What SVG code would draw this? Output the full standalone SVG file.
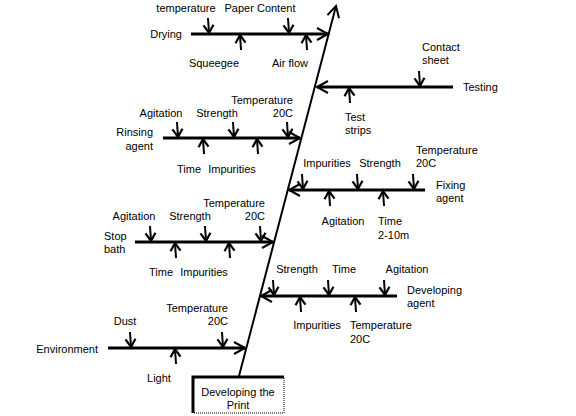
<svg xmlns="http://www.w3.org/2000/svg" width="576" height="416" viewBox="0 0 576 416">
<defs>
<marker id="sh" markerUnits="userSpaceOnUse" markerWidth="20" markerHeight="20" refX="0" refY="0" viewBox="-10 -10 20 20" orient="auto" overflow="visible">
<path d="M-8,-5 L0,0 L-8,5" fill="none" stroke="#000" stroke-width="2.2"/>
</marker>
<marker id="bh" markerUnits="userSpaceOnUse" markerWidth="20" markerHeight="20" refX="0" refY="0" viewBox="-10 -10 20 20" orient="auto" overflow="visible">
<path d="M-11,-6 L0,0 L-11,6" fill="none" stroke="#000" stroke-width="2"/>
</marker>
</defs>
<style>
text{font-family:"Liberation Sans",Arial,sans-serif;font-size:11px;fill:#000}
.br{stroke:#000;stroke-width:3;fill:none;marker-end:url(#bh)}
.sp{stroke:#000;stroke-width:2;fill:none;marker-end:url(#bh)}
.sa{stroke:#000;stroke-width:2;fill:none;marker-end:url(#sh)}
.e{text-anchor:end}
.m{text-anchor:middle}
</style>
<rect width="576" height="416" fill="#fff"/>
<g id="connectors">
<line class="sp" x1="239" y1="376" x2="336" y2="6"/>
<line class="br" x1="191" y1="34" x2="328" y2="34"/>
<line class="br" x1="453" y1="87" x2="317" y2="87"/>
<line class="br" x1="163" y1="138" x2="300" y2="138"/>
<line class="br" x1="425" y1="190" x2="289" y2="190"/>
<line class="br" x1="135" y1="242" x2="273" y2="242"/>
<line class="br" x1="397" y1="296" x2="261" y2="296"/>
<line class="br" x1="108" y1="348" x2="245" y2="348"/>
<!-- drying -->
<line class="sa" x1="208" y1="18" x2="209" y2="33"/>
<line class="sa" x1="288" y1="18" x2="289" y2="33"/>
<line class="sa" x1="241" y1="50" x2="240" y2="35"/>
<line class="sa" x1="307" y1="50" x2="306" y2="35"/>
<!-- testing -->
<line class="sa" x1="419" y1="71" x2="420" y2="86"/>
<line class="sa" x1="350" y1="103" x2="349" y2="88"/>
<!-- rinsing -->
<line class="sa" x1="177" y1="122" x2="178" y2="137"/>
<line class="sa" x1="233" y1="122" x2="234" y2="137"/>
<line class="sa" x1="287" y1="122" x2="288" y2="137"/>
<line class="sa" x1="204" y1="154" x2="203" y2="139"/>
<line class="sa" x1="258" y1="154" x2="257" y2="139"/>
<!-- fixing -->
<line class="sa" x1="302" y1="174" x2="303" y2="189"/>
<line class="sa" x1="357" y1="174" x2="358" y2="189"/>
<line class="sa" x1="413" y1="174" x2="414" y2="189"/>
<line class="sa" x1="330" y1="206" x2="329" y2="191"/>
<line class="sa" x1="384" y1="206" x2="383" y2="191"/>
<!-- stop bath -->
<line class="sa" x1="150" y1="226" x2="151" y2="241"/>
<line class="sa" x1="205" y1="226" x2="206" y2="241"/>
<line class="sa" x1="260" y1="226" x2="261" y2="241"/>
<line class="sa" x1="176" y1="258" x2="175" y2="243"/>
<line class="sa" x1="230" y1="258" x2="229" y2="243"/>
<!-- developing -->
<line class="sa" x1="273" y1="280" x2="274" y2="295"/>
<line class="sa" x1="328" y1="280" x2="329" y2="295"/>
<line class="sa" x1="384" y1="280" x2="385" y2="295"/>
<line class="sa" x1="301" y1="312" x2="300" y2="297"/>
<line class="sa" x1="356" y1="312" x2="355" y2="297"/>
<!-- environment -->
<line class="sa" x1="130" y1="332" x2="131" y2="347"/>
<line class="sa" x1="222" y1="332" x2="223" y2="347"/>
<line class="sa" x1="176" y1="364" x2="175" y2="349"/>
</g>
<g id="head">
<rect x="193" y="377" width="91" height="36" fill="#fff" stroke="#000" stroke-width="1" stroke-dasharray="1,1"/>
<path d="M193,413 L193,377 L284,377" fill="none" stroke="#000" stroke-width="3"/>
<text class="m" x="238" y="396">Developing the</text>
<text class="m" x="238" y="409">Print</text>
</g>
<g id="drying">
<text class="e" x="182" y="38">Drying</text>
<text class="m" x="186" y="12">temperature</text>
<text class="m" x="260" y="12">Paper Content</text>
<text class="m" x="214" y="67">Squeegee</text>
<text class="m" x="290" y="67">Air flow</text>
</g>
<g id="testing">
<text x="463" y="91">Testing</text>
<text x="422" y="51">Contact</text>
<text x="422" y="64">sheet</text>
<text x="345" y="121">Test</text>
<text x="345" y="134">strips</text>
</g>
<g id="rinsing">
<text class="e" x="153" y="136">Rinsing</text>
<text class="e" x="153" y="150">agent</text>
<text class="m" x="161" y="117">Agitation</text>
<text class="m" x="217" y="117">Strength</text>
<text class="e" x="293" y="104">Temperature</text>
<text class="e" x="293" y="117">20C</text>
<text class="m" x="189" y="173">Time</text>
<text class="m" x="232" y="173">Impurities</text>
</g>
<g id="fixing">
<text x="436" y="189">Fixing</text>
<text x="436" y="202">agent</text>
<text class="m" x="327" y="167">Impurities</text>
<text class="m" x="380" y="167">Strength</text>
<text x="416" y="154">Temperature</text>
<text x="416" y="167">20C</text>
<text class="m" x="343" y="225">Agitation</text>
<text x="378" y="225">Time</text>
<text x="378" y="239">2-10m</text>
</g>
<g id="stopbath">
<text x="104" y="240">Stop</text>
<text x="104" y="253">bath</text>
<text class="m" x="134" y="220">Agitation</text>
<text class="m" x="190" y="220">Strength</text>
<text class="e" x="265" y="207">Temperature</text>
<text class="e" x="265" y="220">20C</text>
<text class="m" x="161" y="276">Time</text>
<text class="m" x="204" y="276">Impurities</text>
</g>
<g id="developing">
<text x="407" y="294">Developing</text>
<text x="407" y="307">agent</text>
<text class="m" x="297" y="273">Strength</text>
<text class="m" x="344" y="273">Time</text>
<text class="m" x="407" y="273">Agitation</text>
<text class="m" x="317" y="329">Impurities</text>
<text x="350" y="329">Temperature</text>
<text x="350" y="343">20C</text>
</g>
<g id="environment">
<text class="e" x="98" y="353">Environment</text>
<text class="m" x="125" y="325">Dust</text>
<text class="e" x="228" y="312">Temperature</text>
<text class="e" x="228" y="325">20C</text>
<text class="m" x="159" y="382">Light</text>
</g>
</svg>
